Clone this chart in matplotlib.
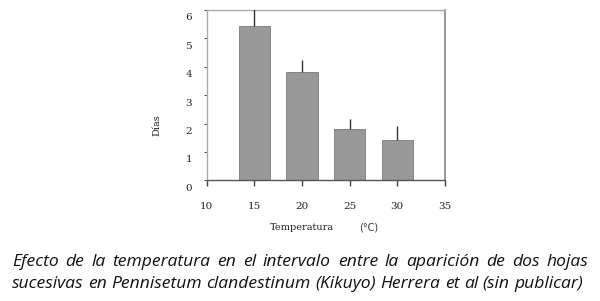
import matplotlib
matplotlib.use("Agg")
import matplotlib.pyplot as plt
import matplotlib.transforms as mtransforms

temperatures = [15, 20, 25, 30]
dias = [5.42, 3.82, 1.81, 1.42]
err_up = [0.60, 0.40, 0.34, 0.50]
x_ticks = [10, 15, 20, 25, 30, 35]
y_ticks = [0, 1, 2, 3, 4, 5, 6]
caption_lines = [
    "Efecto de la temperatura en el intervalo entre la aparición de dos hojas",
    "sucesivas en Pennisetum clandestinum (Kikuyo) Herrera et al (sin publicar)",
]

fig = plt.figure(figsize=(6.0, 3.01), dpi=100)
ax = fig.add_axes([0.3445, 0.401, 0.397, 0.566])

ax.bar(temperatures, dias, width=3.3, color="#999999", edgecolor="#7a7a7a", linewidth=0.6, zorder=2)
ax.errorbar(temperatures, dias, yerr=[[0] * len(dias), err_up], fmt="none",
            ecolor="#333333", elinewidth=1.0, capsize=0, zorder=3)

ax.set_xlim(10, 35)
ax.set_ylim(0, 6)
ax.set_xticks(x_ticks)
ax.set_yticks(y_ticks)
ax.set_xticklabels([str(v) for v in x_ticks], family="DejaVu Serif", fontsize=7.5, color="#222222")
ax.set_yticklabels([str(v) for v in y_ticks], family="DejaVu Serif", fontsize=7.5, color="#222222")
ax.tick_params(axis="x", direction="out", length=4.3, width=1.0, color="#444444", pad=11)
ax.tick_params(axis="y", direction="out", length=2.5, width=0.8, color="#555555", pad=8)

off = mtransforms.ScaledTranslation(0, -5 / 72, fig.dpi_scale_trans)
for lab in ax.get_yticklabels():
    lab.set_transform(lab.get_transform() + off)

for side in ["left", "top"]:
    ax.spines[side].set_color("#aaaaaa")
    ax.spines[side].set_linewidth(1.0)
ax.spines["bottom"].set_color("#555555")
ax.spines["bottom"].set_linewidth(1.0)
ax.spines["right"].set_color("#888888")
ax.spines["right"].set_linewidth(1.2)

fig.text(157 / 600, 1 - 125 / 301, "Días", rotation=90, ha="center", va="center",
         family="DejaVu Serif", fontsize=7, color="#222222")
fig.text(302 / 600, 1 - 228 / 301, "Temperatura", ha="center", va="center",
         family="DejaVu Serif", fontsize=7, color="#222222")
fig.text(369 / 600, 1 - 228 / 301, "(°C)", ha="center", va="center",
         family="DejaVu Sans", fontsize=7, color="#333333")

# caption: fit line 2 naturally, justify line 1
renderer = fig.canvas.get_renderer()
left_px = 12
targets = [588, 583]
line_y = [262, 284]
cap_family = "Open Sans"
probe = fig.text(0, 0, caption_lines[1], family=cap_family, style="italic", fontsize=10)
w10 = probe.get_window_extent(renderer).width
probe.remove()
fs = 10 * (targets[1] - left_px) / w10

for i, line in enumerate(caption_lines):
    words = line.split(" ")
    texts, widths = [], []
    for w in words:
        t = fig.text(0, 0, w, family=cap_family, style="italic", fontsize=fs, color="#111111",
                     va="center", ha="left")
        texts.append(t)
        widths.append(t.get_window_extent(renderer).width)
    gap = (targets[i] - left_px - sum(widths)) / (len(words) - 1)
    x = left_px
    for t, wdt in zip(texts, widths):
        t.set_position((x / 600, 1 - line_y[i] / 301))
        x += wdt + gap

fig.savefig("out.png", dpi=100)
